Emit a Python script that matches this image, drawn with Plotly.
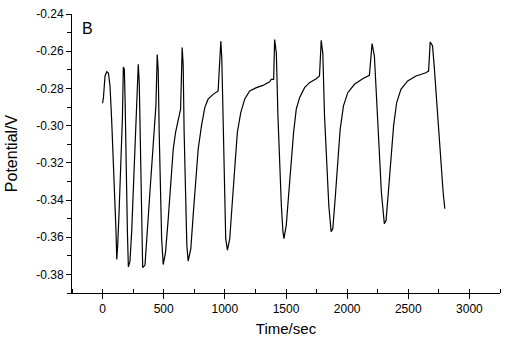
import plotly.graph_objects as go

# Potential transient (V) versus time (s)
time_s = [0, 7, 20, 34, 48, 61, 75, 88, 102, 110, 116, 124, 135, 148, 162, 170, 178,
          184, 192, 203, 211, 224, 238, 251, 265, 279, 292, 300,
          309, 320, 328, 347, 368, 387, 406, 423, 436, 447, 455,
          463, 474, 483, 496, 515, 537, 559, 578, 597, 618, 638, 651, 659,
          667, 678, 689, 700, 722, 741, 763, 782, 809, 836, 863, 904, 945, 967, 975,
          986, 1000, 1007, 1021, 1040, 1059, 1081, 1102, 1130, 1162, 1203, 1258, 1312, 1366, 1380, 1399, 1407, 1421,
          1434, 1448, 1462, 1475, 1483, 1502, 1524, 1543, 1562, 1584, 1611, 1652, 1692, 1747, 1774, 1788, 1801,
          1815, 1834, 1850, 1869, 1883, 1902, 1924, 1943, 1970, 2005, 2060, 2127, 2182, 2204, 2223,
          2241, 2263, 2280, 2304, 2318, 2337, 2359, 2380, 2405, 2440, 2495, 2563, 2644, 2666, 2679, 2698,
          2712, 2739, 2767, 2785, 2799]
potential_v = [-0.288, -0.285, -0.2733, -0.271, -0.2717, -0.2787, -0.298, -0.318, -0.337, -0.357, -0.372, -0.364, -0.3465, -0.325, -0.2966, -0.2685, -0.2697,
               -0.2858, -0.321, -0.357, -0.376, -0.373, -0.357, -0.336, -0.3126, -0.2858, -0.267, -0.277,
               -0.3126, -0.357, -0.3764, -0.375, -0.357, -0.336, -0.318, -0.3037, -0.2894, -0.2618, -0.270,
               -0.3037, -0.3393, -0.3608, -0.3747, -0.368, -0.350, -0.3304, -0.3126, -0.3037, -0.298, -0.2912, -0.258, -0.267,
               -0.3037, -0.3393, -0.3643, -0.3728, -0.366, -0.348, -0.3268, -0.3126, -0.300, -0.2903, -0.2858, -0.2832, -0.2814, -0.2546, -0.2636,
               -0.3037, -0.3393, -0.3608, -0.367, -0.3608, -0.343, -0.3215, -0.3037, -0.293, -0.2858, -0.2814, -0.2796, -0.2784, -0.2765, -0.2751, -0.2751, -0.2537, -0.261,
               -0.2947, -0.3215, -0.343, -0.357, -0.3608, -0.3536, -0.334, -0.318, -0.3037, -0.2912, -0.285, -0.2796, -0.2769, -0.2748, -0.2733, -0.2541, -0.261,
               -0.2947, -0.3215, -0.343, -0.357, -0.3553, -0.3393, -0.318, -0.302, -0.2894, -0.2823, -0.2778, -0.2748, -0.273, -0.2559, -0.2627,
               -0.2858, -0.3126, -0.3358, -0.3527, -0.351, -0.3358, -0.318, -0.300, -0.2876, -0.2805, -0.276, -0.2733, -0.2716, -0.2707, -0.2551, -0.257,
               -0.268, -0.2947, -0.318, -0.3358, -0.3447]

x_tick_vals = [0, 500, 1000, 1500, 2000, 2500, 3000]
x_tick_text = ["0", "500", "1000", "1500", "2000", "2500", "3000"]
y_tick_vals = [-0.38, -0.36, -0.34, -0.32, -0.30, -0.28, -0.26, -0.24]
y_tick_text = ["-0.38", "-0.36", "-0.34", "-0.32", "-0.30", "-0.28", "-0.26", "-0.24"]

font_family = "Liberation Sans, Arial, sans-serif"

fig = go.Figure()
fig.add_trace(go.Scatter(
    x=time_s, y=potential_v, mode="lines",
    line=dict(color="black", width=1.2, shape="linear"),
    showlegend=False, hoverinfo="skip",
))

fig.update_layout(
    width=507, height=344,
    margin=dict(l=72, r=7, t=11, b=51),
    paper_bgcolor="white", plot_bgcolor="white",
    font=dict(family=font_family, color="black", size=12),
    annotations=[dict(
        text="B", x=0.018, y=0.985, xref="paper", yref="paper",
        xanchor="left", yanchor="top", showarrow=False,
        font=dict(family=font_family, size=16, color="black"),
    )],
)

fig.update_xaxes(
    range=[-250, 3250], showgrid=False, zeroline=False,
    showline=True, linecolor="black", linewidth=1,
    ticks="outside", ticklen=5, tickwidth=1, tickcolor="black",
    tickvals=x_tick_vals, ticktext=x_tick_text,
    tickfont=dict(size=12),
    minor=dict(dtick=250, tick0=-250, ticks="inside", ticklen=4, tickcolor="black", showgrid=False),
    title=dict(text="Time/sec", font=dict(size=15), standoff=8),
)

fig.update_yaxes(
    range=[-0.39, -0.24], showgrid=False, zeroline=False,
    showline=True, linecolor="black", linewidth=1,
    ticks="outside", ticklen=5, tickwidth=1, tickcolor="black",
    tickvals=y_tick_vals, ticktext=y_tick_text,
    tickfont=dict(size=12),
    minor=dict(dtick=0.01, tick0=-0.39, ticks="outside", ticklen=4, tickcolor="black", showgrid=False),
    title=dict(text="Potential/V", font=dict(size=16), standoff=14),
)

fig.write_html("out.html")
